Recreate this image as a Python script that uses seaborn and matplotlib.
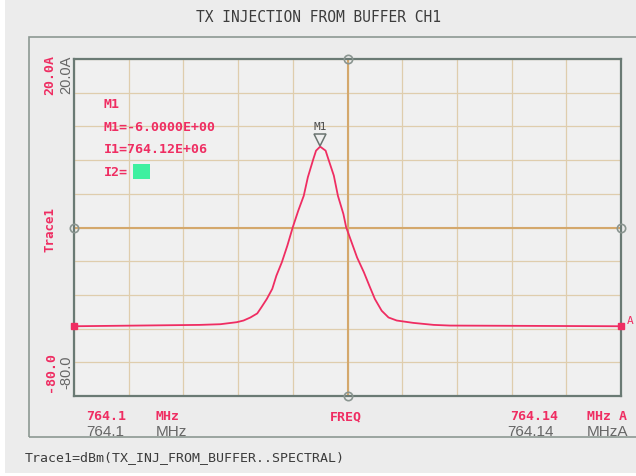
import numpy as np
import pandas as pd
import matplotlib.pyplot as plt
import matplotlib.transforms as mtransforms
import seaborn as sns
from matplotlib.patches import Rectangle

# Spectrum trace (MHz, dBm)
freq_mhz = [764.1000, 764.1092, 764.1107, 764.1119, 764.1124, 764.1129, 764.1134,
            764.1137, 764.1141, 764.1145, 764.1148, 764.1152, 764.1156, 764.1160,
            764.1164, 764.1168, 764.1171, 764.1175, 764.1177, 764.1180, 764.1184,
            764.1186, 764.1190, 764.1193, 764.1197, 764.1199, 764.1203, 764.1207,
            764.1212, 764.1216, 764.1220, 764.1225, 764.1230, 764.1236, 764.1248,
            764.1263, 764.1275, 764.1400]
level_dbm = [-59.3, -58.9, -58.7, -58.1, -57.6, -56.7, -55.5,
             -53.7, -51.2, -48.2, -44.3, -40.3, -35.4, -29.9,
             -25.0, -20.6, -15.1, -9.7, -7.2, -6.0, -7.2,
             -9.7, -14.6, -20.6, -26.0, -29.9, -34.4, -38.9,
             -43.3, -47.3, -51.2, -54.7, -56.7, -57.6, -58.3,
             -58.9, -59.1, -59.3]

x_start, x_stop = 764.1, 764.14
y_top, y_bottom = 20.0, -80.0
marker_freq = 764.118
marker_level = -6.0

marker_lines = ['M1', 'M1=-6.0000E+00', 'I1=764.12E+06', 'I2=']
title = 'TX INJECTION FROM BUFFER CH1'
footer = 'Trace1=dBm(TX_INJ_FROM_BUFFER..SPECTRAL)'

df = pd.DataFrame({'freq': freq_mhz, 'level': level_dbm})

sns.set_theme(style='white')
plt.rcParams['font.family'] = ['DejaVu Sans Mono']

RED = '#ef2d62'
GRID = '#dfcdad'
CENTER = '#d4a86c'
GRAYTXT = '#666666'
W, H = 636, 477


def px(x, y):
    return x / W, 1 - y / H


fig = plt.figure(figsize=(6.36, 4.77), dpi=100, facecolor='white')
# light gray screen background and outer frame
fig.patches.append(Rectangle(px(5, 474), (W - 5) / W, 474 / H, transform=fig.transFigure,
                             facecolor='#ececec', edgecolor='none', zorder=-2))
fig.patches.append(Rectangle(px(29, 438), (W - 25) / W, 400 / H, transform=fig.transFigure,
                             facecolor='none', edgecolor='#8c9893', lw=1.2, zorder=-1))

ax = fig.add_axes([74 / W, 1 - 397 / H, (621 - 74) / W, (397 - 60) / H])
ax.set_facecolor('#f0f0f0')

sns.lineplot(data=df, x='freq', y='level', ax=ax, color=RED, lw=1.3, zorder=3)

ax.set_xlim(x_start, x_stop)
ax.set_ylim(y_bottom, y_top)
ax.set_xticks(np.linspace(x_start, x_stop, 11))
ax.set_yticks(np.linspace(y_bottom, y_top, 11))
ax.grid(True, color=GRID, lw=0.9)
ax.tick_params(length=0, labelbottom=False, labelleft=False)
ax.set_xlabel('')
ax.set_ylabel('')
for s in ax.spines.values():
    s.set_color('#6a7a74')
    s.set_linewidth(1.6)

xc = (x_start + x_stop) / 2
yc = (y_top + y_bottom) / 2
ax.axvline(xc, color=CENTER, lw=1.5, zorder=1)
ax.axhline(yc, color=CENTER, lw=1.5, zorder=1)
# reference diamonds at the centre lines
ax.plot([xc, xc, x_start, x_stop], [y_top, y_bottom, yc, yc], 'o', ms=6,
        mfc='none', mec='#8a9590', mew=1.2, clip_on=False, zorder=4)

# trace end markers
ax.plot([freq_mhz[0], freq_mhz[-1]], [level_dbm[0], level_dbm[-1]], 's', ms=5,
        color=RED, clip_on=False, zorder=5)
ax.annotate('A', (freq_mhz[-1], level_dbm[-1]), xytext=(4, 2), textcoords='offset points',
            color=RED, fontsize=8, annotation_clip=False)

# peak marker, tip resting on the peak
tri = mtransforms.offset_copy(ax.transData, fig=fig, x=0, y=5, units='points')
ax.plot([marker_freq], [marker_level], 'v', ms=9, mfc='#f0f0f0', mec='#6a7470',
        mew=1.1, zorder=6, transform=tri)
ax.annotate('M1', (marker_freq, marker_level), xytext=(0, 11), textcoords='offset points',
            ha='center', va='bottom', color='#4a4a4a', fontsize=8)

# marker readout
for i, line in enumerate(marker_lines):
    fig.text(*px(104, 105 + i * 22.5), line, color=RED, fontsize=9.5, va='center',
             fontweight='bold')
fig.patches.append(Rectangle(px(133, 180), 17 / W, 15 / H, transform=fig.transFigure,
                             facecolor='#3ef0a0', edgecolor='none'))

# titles and labels
fig.text(*px(318, 18), title, ha='center', va='center', color='#3c3c3c', fontsize=10.5)
fig.text(*px(25, 458), footer, ha='left', va='center', color='#3c3c3c', fontsize=9.5)

fig.text(*px(50, 230), 'Trace1', rotation=90, ha='center', va='center', color=RED,
         fontsize=9, fontweight='bold')
fig.text(*px(50, 75), '20.0A', rotation=90, ha='center', va='center', color=RED,
         fontsize=9.5, fontweight='bold')
fig.text(*px(66, 75), '20.0A', rotation=90, ha='center', va='center', color=GRAYTXT,
         fontsize=10.5, family='Liberation Sans')
fig.text(*px(50, 372), '-80.0', rotation=90, ha='center', va='center', color=RED,
         fontsize=9.5, fontweight='bold')
fig.text(*px(66, 372), '-80.0', rotation=90, ha='center', va='center', color=GRAYTXT,
         fontsize=10.5, family='Liberation Sans')

fig.text(*px(86, 417), '764.1', color=RED, fontsize=9.5, va='center', fontweight='bold')
fig.text(*px(156, 417), 'MHz', color=RED, fontsize=9.5, va='center', fontweight='bold')
fig.text(*px(86, 432), '764.1', color=GRAYTXT, fontsize=11, va='center',
         family='Liberation Sans')
fig.text(*px(156, 432), 'MHz', color=GRAYTXT, fontsize=11, va='center',
         family='Liberation Sans')
fig.text(*px(346, 417), 'FREQ', color=RED, fontsize=9.5, va='center', ha='center',
         fontweight='bold')
fig.text(*px(510, 417), '764.14', color=RED, fontsize=9.5, va='center', fontweight='bold')
fig.text(*px(587, 417), 'MHz A', color=RED, fontsize=9.5, va='center', fontweight='bold')
fig.text(*px(507, 432), '764.14', color=GRAYTXT, fontsize=11, va='center',
         family='Liberation Sans')
fig.text(*px(587, 432), 'MHzA', color=GRAYTXT, fontsize=11, va='center',
         family='Liberation Sans')

fig.savefig('out.png', dpi=100, facecolor=fig.get_facecolor())
